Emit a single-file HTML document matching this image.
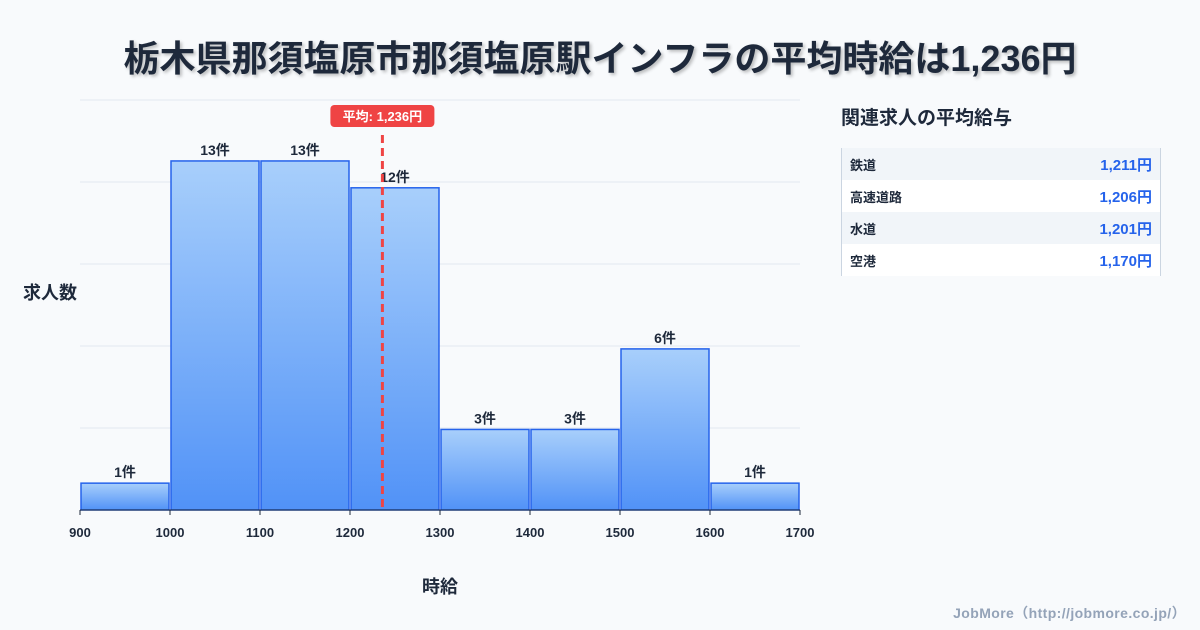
<!DOCTYPE html>
<html><head><meta charset="utf-8">
<style>
body{margin:0;width:1200px;height:630px;background:#f8fafc;font-family:"Liberation Sans","Noto Sans CJK JP",sans-serif;overflow:hidden;position:relative;color:#1e293b}
.title{position:absolute;left:0;width:1200px;top:30px;text-align:center;font-size:36px;font-weight:bold;color:#1e293b;text-shadow:2px 2px 3px rgba(0,0,0,0.25)}
.side{position:absolute;left:841px;top:103px;font-size:19px;font-weight:bold}
table{position:absolute;left:841px;top:148px;width:320px;border-collapse:collapse;border-left:1px solid #cbd5e1;border-right:1px solid #cbd5e1;font-size:13px}
td{height:32px;padding:0 8px;font-weight:bold}
td.v{text-align:right;color:#2563eb;font-size:15px}
tr:nth-child(odd){background:#f1f5f9}
tr:nth-child(even){background:#fff}
.foot{position:absolute;right:14px;top:603px;font-size:14px;letter-spacing:0.4px;color:#94a3b8;font-weight:bold}
</style></head><body>
<div class="title">栃木県那須塩原市那須塩原駅インフラの平均時給は1,236円</div>
<svg width="1200" height="630" style="position:absolute;left:0;top:0">
<defs><linearGradient id="g" x1="0" y1="0" x2="0" y2="1"><stop offset="0" stop-color="#a8cffb"/><stop offset="1" stop-color="#5192f7"/></linearGradient></defs>
<g id="grid"></g><g id="bars"></g><g id="ax"></g>
<text x="50" y="299" font-size="18" font-weight="bold" text-anchor="middle" fill="#1e293b">求人数</text>
<text x="440" y="593" font-size="18" font-weight="bold" text-anchor="middle" fill="#1e293b">時給</text>
</svg>
<div class="side">関連求人の平均給与</div>
<table>
<tr><td>鉄道</td><td class="v">1,211円</td></tr>
<tr><td>高速道路</td><td class="v">1,206円</td></tr>
<tr><td>水道</td><td class="v">1,201円</td></tr>
<tr><td>空港</td><td class="v">1,170円</td></tr>
</table>
<div class="foot">JobMore（http://jobmore.co.jp/）</div>
<script>
const binStarts=[900,1000,1100,1200,1300,1400,1500,1600];
const counts=[1,13,13,12,3,3,6,1];
const xTicks=[900,1000,1100,1200,1300,1400,1500,1600,1700];
const meanValue=1236;
const meanLabel="平均: 1,236円";
const X0=80,X1=800,Y0=510,Y1=100,xmin=900,xmax=1700,ymax=15.27;
const sx=v=>X0+(v-xmin)/(xmax-xmin)*(X1-X0);
const sy=v=>Y0-v/ymax*(Y0-Y1);
const NS="http://www.w3.org/2000/svg";
function mk(t,a,p){const e=document.createElementNS(NS,t);for(const k in a)e.setAttribute(k,a[k]);p.appendChild(e);return e;}
const grid=document.getElementById('grid'),bars=document.getElementById('bars'),ax=document.getElementById('ax');
for(let i=1;i<=5;i++){const y=Y0-i*(Y0-Y1)/5;const l=mk('line',{x1:X0,x2:X1,y1:y,y2:y,stroke:'#e2e8f0','stroke-width':1},grid);

}
binStarts.forEach((b,i)=>{const x=sx(b)+1,w=sx(b+100)-sx(b)-2,y=sy(counts[i]);
const r=mk('rect',{x:x,y:y,width:w,height:Y0-y,fill:'url(#g)',stroke:'#2563eb','stroke-width':1.5},bars);


const t=mk('text',{x:x+w/2,y:y-6,'text-anchor':'middle','font-size':14,'font-weight':'bold',fill:'#1e293b'},bars);t.textContent=counts[i]+'件';

});
mk('line',{x1:X0,x2:X1,y1:Y0,y2:Y0,stroke:'#1e293b','stroke-width':1},ax);
xTicks.forEach(v=>{mk('line',{x1:sx(v),x2:sx(v),y1:Y0,y2:Y0+5,stroke:'#1e293b'},ax);
const t=mk('text',{x:sx(v),y:Y0+27,'text-anchor':'middle','font-size':13,'font-weight':'bold',fill:'#1e293b'},ax);t.textContent=v;

});
const mx=sx(meanValue);
const ml=mk('line',{x1:mx,x2:mx,y1:135,y2:Y0,stroke:'#ef4444','stroke-width':3,'stroke-dasharray':'8,5'},ax);


const mb=mk('rect',{x:mx-52,y:105,width:104,height:22,rx:4,fill:'#ef4444'},ax);


const mt=mk('text',{x:mx,y:121,'text-anchor':'middle','font-size':13,'font-weight':'bold',fill:'#fff'},ax);mt.textContent=meanLabel;


</script>
</body></html>
